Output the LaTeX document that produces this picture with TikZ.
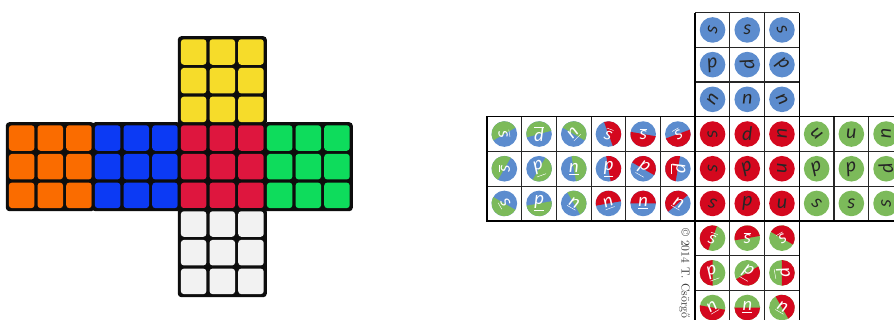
\documentclass[tikz,border=0pt]{standalone}
\usepackage{fontspec}
\usepackage{tikz}
\newfontfamily\letfont{Carlito}
\definecolor{cubeyellow}{RGB}{246,220,42}
\definecolor{cubeorange}{RGB}{250,108,0}
\definecolor{cubeblue}{RGB}{12,58,244}
\definecolor{cubered}{RGB}{222,22,62}
\definecolor{cubegreen}{RGB}{14,220,92}
\definecolor{cubewhite}{RGB}{242,242,242}
\definecolor{spotblue}{RGB}{92,140,206}
\definecolor{spotred}{RGB}{212,8,30}
\definecolor{spotgreen}{RGB}{124,186,90}
% one-colour spot: column, row, colour, letter, rotation
\newcommand{\monospot}[5]{%
  \pgfmathsetmacro\spx{487+34.7*(#1+0.5)}%
  \pgfmathsetmacro\spy{203.3-34.7*(#2+0.5)}%
  \fill[#3] (\spx,\spy) circle (12.8);
  \node[darklet,rotate=#5] (m#1#2) at (\spx,\spy) {#4};}
% two-colour spot: column, row, colour A, colour B, start of A, letter, rotation
\newcommand{\duospot}[7]{%
  \pgfmathsetmacro\spx{487+34.7*(#1+0.5)}%
  \pgfmathsetmacro\spy{203.3-34.7*(#2+0.5)}%
  \fill[#4] (\spx,\spy) circle (12.8);
  \fill[#3] (\spx,\spy) -- ++(#5:12.8) arc[start angle=#5,delta angle=180,radius=12.8] -- cycle;
  \node[lightlet,rotate=#7] (d#1#2) at (\spx,\spy) {$\overline{\hbox{#6}}$};}

\begin{document}
\begin{tikzpicture}[x=0.3mm,y=0.3mm,
  darklet/.style={inner sep=0pt,text=black!85,font=\letfont\itshape\fontsize{17}{17}\selectfont},
  lightlet/.style={inner sep=0pt,text=white,font=\letfont\itshape\fontsize{16}{16}\selectfont},
  grid/.style={black!85,line width=0.9pt},
  sticker/.style={rounded corners=2.5}]
\useasboundingbox (0,0) rectangle (894,320);
\clip (0,0) rectangle (894,320);
% flat cube
\foreach \c/\r/\col in {0/0/cubeorange,1/0/cubeblue,2/0/cubered,3/0/cubegreen,2/-1/cubeyellow,2/1/cubewhite}{
  \fill[black!95,rounded corners=3] ({7.3+86*\c-1.5},{110.3-86*\r-1.5}) rectangle ++(89,89);
  \foreach \i in {0,1,2}{\foreach \j in {0,1,2}{
    \fill[sticker,\col] ({7.3+86*\c+28.67*\i+1.6},{110.3-86*\r+28.67*\j+1.6}) rectangle ++(25.47,25.47);}}}
% spotted net
\foreach \i in {0,...,12}{\draw[grid] ({487+34.7*\i},203.3) -- ++(0,-104.1);}
\foreach \j in {0,...,3}{\draw[grid] (487,{203.3-34.7*\j}) -- ++(420,0);}
\foreach \i in {6,...,9}{\draw[grid] ({487+34.7*\i},307.4) -- ++(0,-104.1);
  \draw[grid] ({487+34.7*\i},99.2) -- ++(0,-104.1);}
\foreach \j in {1,2,3}{\draw[grid] (695.2,{203.3+34.7*\j}) -- ++(104.1,0);
  \draw[grid] (695.2,{99.2-34.7*\j}) -- ++(104.1,0);}
\draw[black,line width=1.3pt] (695.2,307.4) -- (695.2,-5) (799.3,307.4) -- (799.3,-5)
  (487,203.3) rectangle (907,99.2);
% top
\monospot{6}{-3}{spotblue}{s}{80}  \monospot{7}{-3}{spotblue}{s}{0}   \monospot{8}{-3}{spotblue}{s}{-70}
\monospot{6}{-2}{spotblue}{d}{190} \monospot{7}{-2}{spotblue}{d}{100} \monospot{8}{-2}{spotblue}{d}{135}
\monospot{6}{-1}{spotblue}{u}{-120}\monospot{7}{-1}{spotblue}{u}{180} \monospot{8}{-1}{spotblue}{u}{120}
% left faces
\duospot{0}{0}{spotgreen}{spotblue}{30}{s}{-80} \duospot{1}{0}{spotgreen}{spotblue}{15}{d}{0}   \duospot{2}{0}{spotgreen}{spotblue}{-30}{u}{-135}
\duospot{0}{1}{spotgreen}{spotblue}{60}{s}{90}  \duospot{1}{1}{spotgreen}{spotblue}{240}{d}{200}\duospot{2}{1}{spotgreen}{spotblue}{-80}{u}{180}
\duospot{0}{2}{spotgreen}{spotblue}{150}{s}{120}\duospot{1}{2}{spotgreen}{spotblue}{190}{d}{180}\duospot{2}{2}{spotgreen}{spotblue}{-60}{u}{150}
\duospot{3}{0}{spotred}{spotblue}{-70}{s}{-20}  \duospot{4}{0}{spotred}{spotblue}{170}{s}{0}    \duospot{5}{0}{spotred}{spotblue}{200}{s}{30}
\duospot{3}{1}{spotred}{spotblue}{-80}{d}{180}  \duospot{4}{1}{spotred}{spotblue}{-30}{d}{150}  \duospot{5}{1}{spotred}{spotblue}{80}{d}{90}
\duospot{3}{2}{spotred}{spotblue}{10}{u}{200}   \duospot{4}{2}{spotred}{spotblue}{0}{u}{180}    \duospot{5}{2}{spotred}{spotblue}{40}{u}{150}
% front and right
\monospot{6}{0}{spotred}{s}{100} \monospot{7}{0}{spotred}{d}{0}   \monospot{8}{0}{spotred}{u}{-90}
\monospot{6}{1}{spotred}{s}{90}  \monospot{7}{1}{spotred}{d}{200} \monospot{8}{1}{spotred}{u}{90}
\monospot{6}{2}{spotred}{s}{160} \monospot{7}{2}{spotred}{d}{180} \monospot{8}{2}{spotred}{u}{0}
\monospot{9}{0}{spotgreen}{u}{-45} \monospot{10}{0}{spotgreen}{u}{0}   \monospot{11}{0}{spotgreen}{u}{-90}
\monospot{9}{1}{spotgreen}{d}{200} \monospot{10}{1}{spotgreen}{d}{190} \monospot{11}{1}{spotgreen}{d}{100}
\monospot{9}{2}{spotgreen}{s}{-40} \monospot{10}{2}{spotgreen}{s}{0}   \monospot{11}{2}{spotgreen}{s}{90}
% bottom
\duospot{6}{3}{spotred}{spotgreen}{70}{s}{-20} \duospot{7}{3}{spotred}{spotgreen}{10}{s}{0}    \duospot{8}{3}{spotred}{spotgreen}{-30}{s}{30}
\duospot{6}{4}{spotred}{spotgreen}{90}{d}{200} \duospot{7}{4}{spotred}{spotgreen}{210}{d}{150} \duospot{8}{4}{spotred}{spotgreen}{-90}{d}{100}
\duospot{6}{5}{spotred}{spotgreen}{170}{u}{210}\duospot{7}{5}{spotred}{spotgreen}{180}{u}{180} \duospot{8}{5}{spotred}{spotgreen}{-60}{u}{150}
\node[rotate=-90,anchor=south west,inner sep=0pt,text=black!80,font=\fontsize{10}{10}\selectfont] (copy) at (679,92) {© 2014 T. Csörgő};
\end{tikzpicture}
\end{document}
